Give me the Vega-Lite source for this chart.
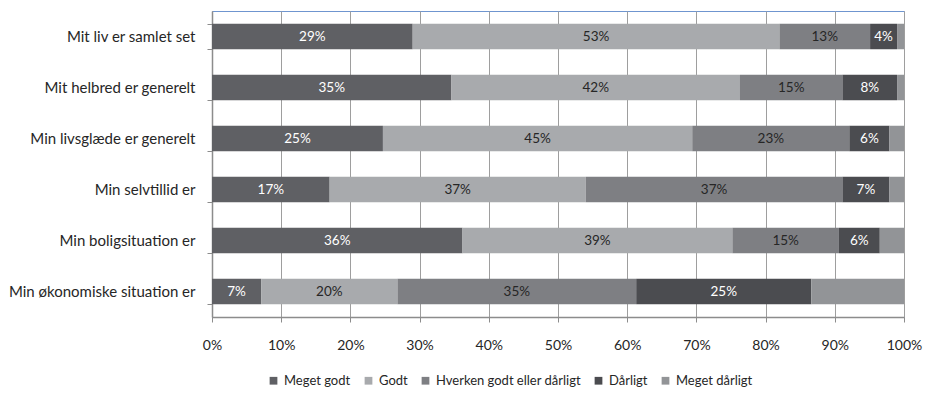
{
  "$schema": "https://vega.github.io/schema/vega-lite/v6.json",
  "width": 692,
  "height": 306,
  "autosize": {"type": "none"},
  "padding": {"left": 212, "top": 11, "right": 21, "bottom": 81},
  "config": {
    "font": "Lato",
    "view": {"stroke": "#6f95cf", "strokeWidth": 1},
    "axis": {"labelFont": "Lato", "labelColor": "#262626"}
  },
  "data": {
    "values": [
      {"q": "Mit liv er samlet set", "cat": "Meget godt", "v": 0.290},
      {"q": "Mit liv er samlet set", "cat": "Godt", "v": 0.530},
      {"q": "Mit liv er samlet set", "cat": "Hverken godt eller dårligt", "v": 0.131},
      {"q": "Mit liv er samlet set", "cat": "Dårligt", "v": 0.039},
      {"q": "Mit liv er samlet set", "cat": "Meget dårligt", "v": 0.010},
      {"q": "Mit helbred er generelt", "cat": "Meget godt", "v": 0.346},
      {"q": "Mit helbred er generelt", "cat": "Godt", "v": 0.417},
      {"q": "Mit helbred er generelt", "cat": "Hverken godt eller dårligt", "v": 0.148},
      {"q": "Mit helbred er generelt", "cat": "Dårligt", "v": 0.079},
      {"q": "Mit helbred er generelt", "cat": "Meget dårligt", "v": 0.010},
      {"q": "Min livsglæde er generelt", "cat": "Meget godt", "v": 0.247},
      {"q": "Min livsglæde er generelt", "cat": "Godt", "v": 0.447},
      {"q": "Min livsglæde er generelt", "cat": "Hverken godt eller dårligt", "v": 0.227},
      {"q": "Min livsglæde er generelt", "cat": "Dårligt", "v": 0.058},
      {"q": "Min livsglæde er generelt", "cat": "Meget dårligt", "v": 0.021},
      {"q": "Min selvtillid er", "cat": "Meget godt", "v": 0.170},
      {"q": "Min selvtillid er", "cat": "Godt", "v": 0.370},
      {"q": "Min selvtillid er", "cat": "Hverken godt eller dårligt", "v": 0.371},
      {"q": "Min selvtillid er", "cat": "Dårligt", "v": 0.068},
      {"q": "Min selvtillid er", "cat": "Meget dårligt", "v": 0.021},
      {"q": "Min boligsituation er", "cat": "Meget godt", "v": 0.362},
      {"q": "Min boligsituation er", "cat": "Godt", "v": 0.390},
      {"q": "Min boligsituation er", "cat": "Hverken godt eller dårligt", "v": 0.154},
      {"q": "Min boligsituation er", "cat": "Dårligt", "v": 0.059},
      {"q": "Min boligsituation er", "cat": "Meget dårligt", "v": 0.035},
      {"q": "Min økonomiske situation er", "cat": "Meget godt", "v": 0.071},
      {"q": "Min økonomiske situation er", "cat": "Godt", "v": 0.197},
      {"q": "Min økonomiske situation er", "cat": "Hverken godt eller dårligt", "v": 0.345},
      {"q": "Min økonomiske situation er", "cat": "Dårligt", "v": 0.253},
      {"q": "Min økonomiske situation er", "cat": "Meget dårligt", "v": 0.134}
    ]
  },
  "transform": [
    {"stack": "v", "groupby": ["q"], "as": ["v0", "v1"]},
    {"calculate": "(datum.v0 + datum.v1) / 2", "as": "vmid"}
  ],
  "encoding": {
    "y": {
      "field": "q",
      "type": "nominal",
      "sort": null,
      "title": null,
      "scale": {"paddingInner": 0.5, "paddingOuter": 0.25},
      "axis": {
        "tickBand": "extent",
        "tickSize": 5,
        "tickColor": "#8c8c8c",
        "domainColor": "#8c8c8c",
        "domainWidth": 1.5,
        "labelPadding": 12,
        "labelFontSize": 15,
        "labelLimit": 300,
        "grid": false
      }
    }
  },
  "layer": [
    {
      "mark": {"type": "bar"},
      "encoding": {
        "x": {
          "field": "v0",
          "type": "quantitative",
          "title": null,
          "scale": {"domain": [0, 1], "nice": false},
          "axis": {
            "format": ".0%",
            "values": [0, 0.1, 0.2, 0.3, 0.4, 0.5, 0.6, 0.7, 0.8, 0.9, 1],
            "grid": true,
            "gridColor": "#9e9e9e",
            "gridWidth": 1,
            "tickSize": 5,
            "tickColor": "#8c8c8c",
            "domainColor": "#8c8c8c",
            "domainWidth": 1.5,
            "labelPadding": 16,
            "labelFontSize": 14,
            "labelFlush": false
          }
        },
        "x2": {"field": "v1"},
        "color": {
          "field": "cat",
          "type": "nominal",
          "scale": {
            "domain": ["Meget godt", "Godt", "Hverken godt eller dårligt", "Dårligt", "Meget dårligt"],
            "range": ["#5f6064", "#a8aaad", "#7e7f83", "#4b4c50", "#929497"]
          },
          "legend": {
            "title": null,
            "orient": "none",
            "direction": "horizontal",
            "legendX": 55,
            "legendY": 363,
            "symbolType": "square",
            "symbolSize": 60,
            "symbolStrokeWidth": 0,
            "labelFont": "Lato",
            "labelFontSize": 13,
            "labelColor": "#262626",
            "labelOffset": 4,
            "columnPadding": 11
          }
        }
      }
    },
    {
      "transform": [{"filter": "datum.cat !== 'Meget dårligt'"}],
      "mark": {"type": "text", "font": "Lato", "fontSize": 13.5},
      "encoding": {
        "x": {"field": "vmid", "type": "quantitative"},
        "text": {"field": "v", "type": "quantitative", "format": ".0%"},
        "color": {
          "condition": {"test": "datum.cat === 'Meget godt' || datum.cat === 'Dårligt'", "value": "#ffffff"},
          "value": "#262626"
        }
      }
    }
  ]
}
